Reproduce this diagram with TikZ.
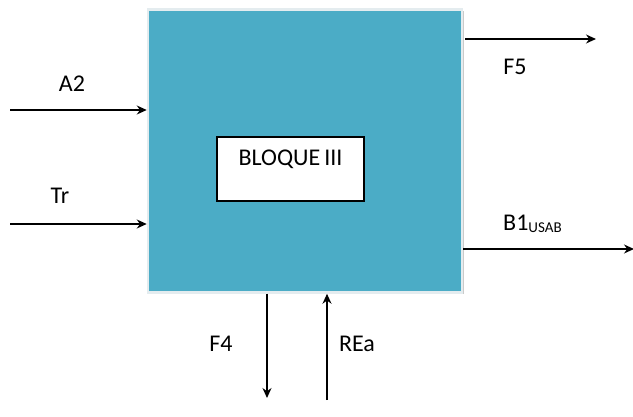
\documentclass[tikz,border=0pt]{standalone}
\usepackage{fontspec}
\setmainfont{Carlito}
\usetikzlibrary{arrows.meta, shadows}
\definecolor{cteal}{HTML}{4BACC6}
\definecolor{cframe}{HTML}{E4ECEF}
\tikzset{
  every picture/.style={font=\fontsize{24}{28}\selectfont},
  bloque/.style={fill=cteal, draw=cframe, line width=2.5pt,
    drop shadow={shadow xshift=2pt, shadow yshift=-2pt, fill=gray!70, opacity=0.6}},
  nucleo/.style={fill=white, draw=black, line width=1.6pt, inner xsep=0pt, inner ysep=6pt},
  flecha/.style={-{Stealth[length=10pt, width=9pt]}, line width=1.3pt},
  etiqueta/.style={anchor=base, inner sep=0pt},
}
\begin{document}
\begin{tikzpicture}[x=1pt, y=-1pt]
  \useasboundingbox (0,0) rectangle (633,417);
  \node[bloque, minimum width=314pt, minimum height=283pt] (bloque) at (305,151) {};
  \node[nucleo, minimum width=147pt, text height=23pt, text depth=29pt] (nucleo) at (290.5,169) {BLOQUE\,III\hspace{8pt}};
  % entradas
  \coordinate (a2in) at (10,110);
  \coordinate (trin) at (10,224);
  \draw[flecha] (a2in) -- (a2in -| bloque.west);
  \draw[flecha] (trin) -- (trin -| bloque.west);
  \node[etiqueta] (a2) at (72,92) {A2};
  \node[etiqueta] (tr) at (60,204) {Tr};
  % salidas
  \coordinate (f5out) at (596,39);
  \coordinate (b1out) at (634,249);
  \draw[flecha] (f5out -| bloque.east) ++(2,0) -- (f5out);
  \draw[flecha] (b1out -| bloque.east) -- (b1out);
  \node[etiqueta] (f5) at (515,75) {F5};
  \node[etiqueta, anchor=base west] (b1) at (503,231) {B1{\fontsize{15}{15}\selectfont\raisebox{-2pt}{USAB}}};
  % abajo
  \coordinate (f4out) at (267,398);
  \coordinate (reain) at (327,400);
  \draw[flecha] (f4out |- bloque.south) -- (f4out);
  \draw[flecha] (reain) -- (reain |- bloque.south);
  \node[etiqueta] (f4) at (221,352) {F4};
  \node[etiqueta] (rea) at (357,352) {REa};
\end{tikzpicture}
\end{document}
